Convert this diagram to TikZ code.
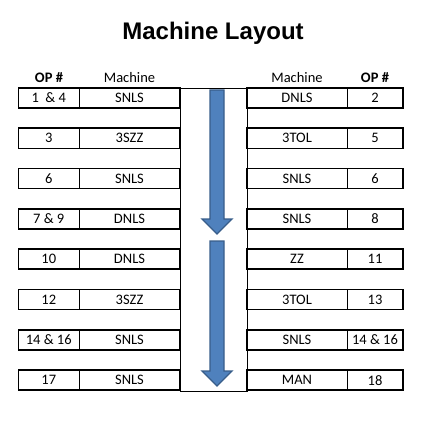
\documentclass[tikz,border=0pt]{standalone}
\usepackage{fontspec}
\setmainfont{Carlito}
\newfontfamily\titlefont{Liberation Sans}
\definecolor{arrowblue}{HTML}{4F81BD}
\definecolor{arrowedge}{HTML}{385D8A}
\tikzset{
  cell/.style={minimum height=20pt,inner sep=0pt,outer sep=0pt,
    anchor=north west,font=\fontsize{14.5}{16}\selectfont},
  rowbox/.style={line width=1.6pt},
  divider/.style={line width=0.8pt},
  head/.style={font=\fontsize{14.5}{16}\selectfont},
  blockarrow/.style={fill=arrowblue,draw=arrowedge,line width=1.3pt,line join=miter}
}
\begin{document}
\begin{tikzpicture}[x=1pt,y=-1pt]
        \useasboundingbox (0,0) rectangle (420,422) ;
        % title and column heads
        \node[font=\titlefont\bfseries\fontsize{24}{28}\selectfont] (title) at (213,33) {Machine Layout} ;
        \node[head,font=\fontsize{14.5}{16}\selectfont\bfseries] (lophead) at (49,78) {OP \#} ;
        \node[head] (lmachead) at (129.5,78) {Machine} ;
        \node[head] (rmachead) at (297,78) {Machine} ;
        \node[head,font=\fontsize{14.5}{16}\selectfont\bfseries] (rophead) at (375,78) {OP \#} ;
        % middle lane
        \draw[divider] (180,88) rectangle (247,391) ;
        \foreach \i/\lop/\lmac/\rmac/\rop in {1/{1~~\& 4}/SNLS/DNLS/2,2/3/3SZZ/3TOL/5,
            3/6/SNLS/SNLS/6,4/{7 \& 9}/DNLS/SNLS/8,5/10/DNLS/ZZ/11,6/12/3SZZ/3TOL/13,
            7/{14 \& 16}/SNLS/SNLS/{14 \& 16},8/17/SNLS/MAN/18}{
          \pgfmathsetmacro\rowtop{88+40.3*(\i-1)}
          \node[cell,minimum width=60.5pt] (lop\i) at (18.5,\rowtop) {\lop} ;
          \node[cell,minimum width=101pt] (lmac\i) at (lop\i.north east) {\lmac} ;
          \node[cell,minimum width=100pt] (rmac\i) at (247,\rowtop) {\rmac} ;
          \node[cell,minimum width=56pt] (rop\i) at (rmac\i.north east) {\rop} ;
          \draw[divider] (lop\i.north east) -- (lop\i.south east) ;
          \draw[divider] (rmac\i.north east) -- (rmac\i.south east) ;
          \draw[rowbox] (lop\i.north west) rectangle (lmac\i.south east) ;
          \draw[rowbox] (rmac\i.north west) rectangle (rop\i.south east) ;
        }
        % flow arrows
        \draw[blockarrow] (210,90)--(224,90)--(224,219)--(232,219)--(217,234)
          --(202,219)--(210,219)--cycle ;
        \draw[blockarrow] (210,241)--(224,241)--(224,371)--(232,371)--(217,386)
          --(202,371)--(210,371)--cycle ;
\end{tikzpicture}
\end{document}
